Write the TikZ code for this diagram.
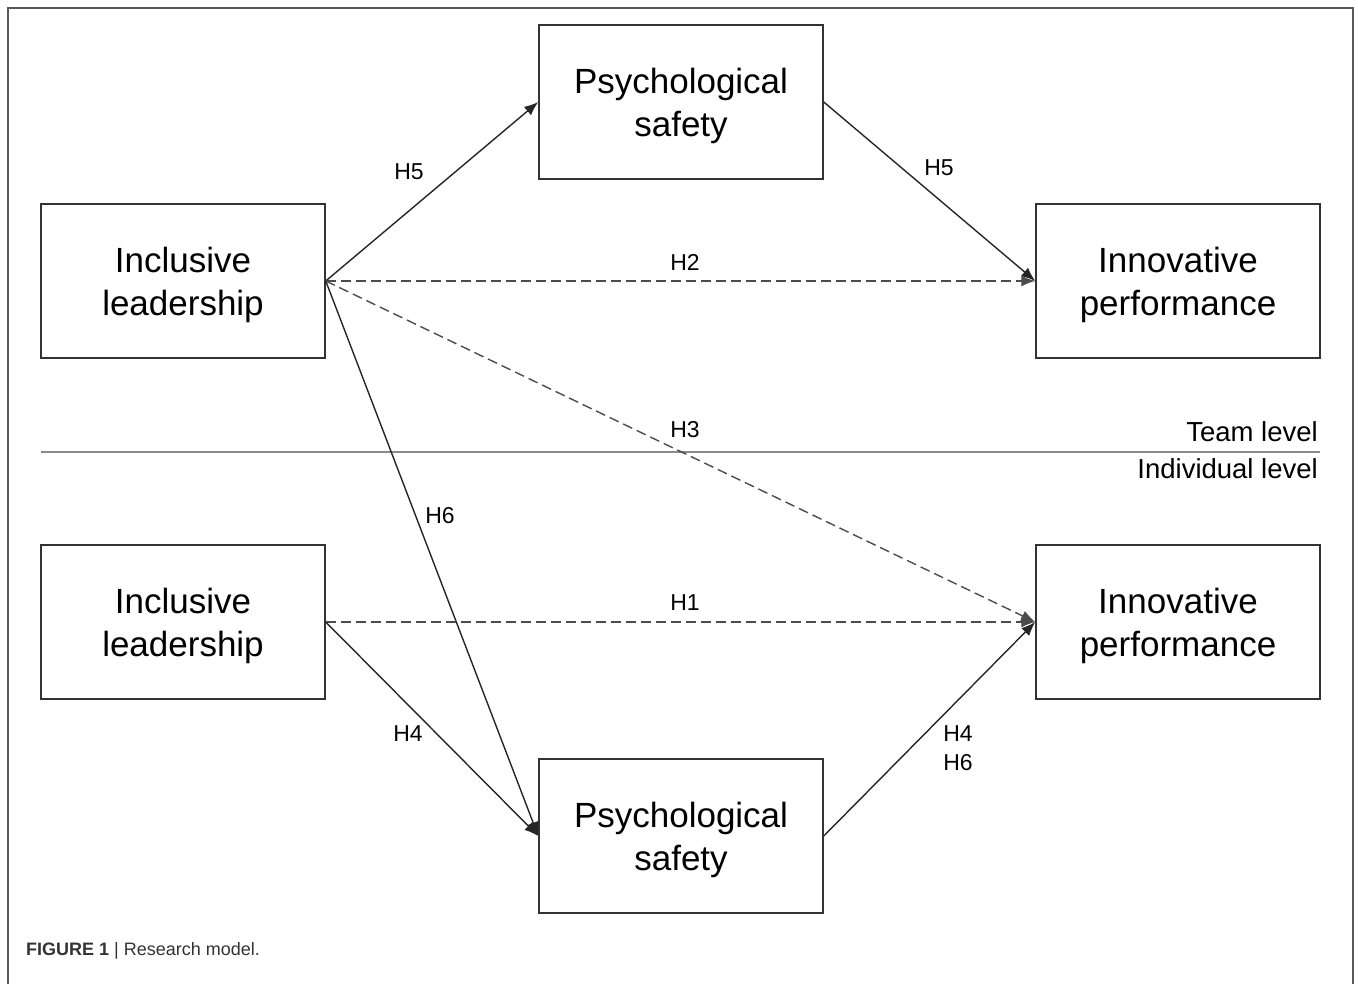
\documentclass[tikz,border=0pt]{standalone}
\usepackage{fontspec}
\setmainfont{Liberation Sans}
\usetikzlibrary{arrows.meta}
\definecolor{boxline}{HTML}{333333}
\definecolor{frameline}{HTML}{5A5A5A}
\definecolor{sepline}{HTML}{8A8A8A}
\definecolor{captext}{HTML}{333333}
\newcommand{\tallstrut}{\rule{0pt}{34pt}}
\begin{document}
\begin{tikzpicture}[x=1pt,y=-1pt,
  varbox/.style={draw=boxline, line width=1.5pt, minimum width=284pt, minimum height=154pt,
     inner sep=0pt, align=center, font=\fontsize{35}{43}\selectfont},
  conn/.style={draw=black!85, line width=1.4pt, -{Latex[length=14pt,width=11pt]}},
  dconn/.style={conn, draw=black!70, dash pattern=on 10pt off 5pt},
  hlab/.style={font=\fontsize{23}{27}\selectfont, inner sep=0pt},
  lvl/.style={font=\fontsize{27.5}{32}\selectfont, inner sep=0pt, anchor=base east}]
\useasboundingbox (0,0) rectangle (1358,984);
% frame
\draw[frameline, line width=1.5pt] (8,984) -- (8,8) -- (1353,8) -- (1353,984);
% separator
\draw[sepline, line width=1.5pt] (41,452) -- (1320,452);
\node[lvl] (team) at (1318,441) {Team level};
\node[lvl] (indiv) at (1318,478) {Individual level};
% boxes
\node[varbox] (ilt) at (183,281) {\tallstrut Inclusive\\leadership};
\node[varbox] (pst) at (681,102) {\tallstrut Psychological\\safety};
\node[varbox] (ipt) at (1178,281) {\tallstrut Innovative\\performance};
\node[varbox] (ilb) at (183,622) {\tallstrut Inclusive\\leadership};
\node[varbox] (ipb) at (1178,622) {\tallstrut Innovative\\performance};
\node[varbox] (psb) at (681,836) {\tallstrut Psychological\\safety};
% connectors
\draw[conn] (ilt.east) -- (pst.west);
\draw[conn] (pst.east) -- (ipt.west);
\draw[dconn] (ilt.east) -- (ipt.west);
\draw[dconn] (ilt.east) -- (ipb.west);
\draw[conn] (ilt.east) -- (psb.west);
\draw[dconn] (ilb.east) -- (ipb.west);
\draw[conn] (ilb.east) -- (psb.west);
\draw[conn] (psb.east) -- (ipb.west);
% labels
\node[hlab] (h5a) at (409,172) {H5};
\node[hlab] (h5b) at (939,168) {H5};
\node[hlab] (h2) at (685,262) {H2};
\node[hlab] (h3) at (685,430) {H3};
\node[hlab] (h6) at (440,516) {H6};
\node[hlab] (h1) at (685,603) {H1};
\node[hlab] (h4a) at (408,734) {H4};
\node[hlab] (h4b) at (958,734) {H4};
\node[hlab] (h6b) at (958,763) {H6};
% caption
\node[anchor=base west, inner sep=0pt, text=captext, font=\fontsize{18}{22}\selectfont] (cap) at (26,955)
  {\textbf{FIGURE 1} | Research model.};
\end{tikzpicture}
\end{document}
